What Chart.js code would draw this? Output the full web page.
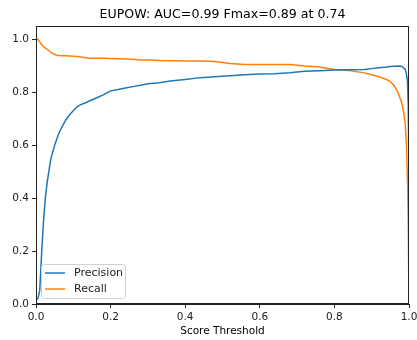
<!DOCTYPE html>
<html>
<head>
<meta charset="utf-8">
<script src="https://cdn.jsdelivr.net/npm/chart.js@4/dist/chart.umd.min.js"></script>
<style>
  html, body { margin: 0; padding: 0; background: #fff; }
  #wrap { width: 417px; height: 340px; }
</style>
</head>
<body>
<div id="wrap"><canvas id="chartpr"></canvas></div>
<script>
// seuils de score et courbes precision / rappel
const thresholds = [0, 0.005, 0.01, 0.015, 0.02, 0.025, 0.03, 0.04, 0.05, 0.06, 0.07, 0.08, 0.09, 0.10,
  0.11, 0.12, 0.13, 0.14, 0.16, 0.18, 0.20, 0.22, 0.24, 0.26, 0.28, 0.30, 0.33, 0.36, 0.40, 0.44,
  0.48, 0.52, 0.56, 0.60, 0.64, 0.68, 0.72, 0.76, 0.80, 0.84, 0.88, 0.90, 0.92, 0.94, 0.95, 0.96,
  0.97, 0.98, 0.985, 0.99, 0.993, 0.996, 0.998, 0.999, 1.0];
const precision = [0.02, 0.02, 0.05, 0.19, 0.31, 0.40, 0.46, 0.55, 0.60, 0.64, 0.67, 0.695, 0.715, 0.73,
  0.745, 0.753, 0.758, 0.765, 0.777, 0.79, 0.805, 0.81, 0.816, 0.821, 0.826, 0.832, 0.836, 0.842, 0.848, 0.855,
  0.858, 0.862, 0.866, 0.869, 0.870, 0.873, 0.879, 0.881, 0.884, 0.885, 0.886, 0.889, 0.892, 0.895, 0.897, 0.898,
  0.899, 0.898, 0.893, 0.885, 0.87, 0.84, 0.75, 0.60, 1.0];
const recall = [1.0, 1.0, 0.99, 0.98, 0.973, 0.967, 0.962, 0.95, 0.942, 0.939, 0.938, 0.938, 0.937, 0.936,
  0.935, 0.933, 0.931, 0.928, 0.928, 0.928, 0.927, 0.926, 0.925, 0.924, 0.922, 0.922, 0.92, 0.919, 0.918, 0.918,
  0.916, 0.908, 0.905, 0.905, 0.905, 0.905, 0.899, 0.895, 0.886, 0.882, 0.873, 0.866, 0.858, 0.848, 0.84, 0.825,
  0.80, 0.763, 0.73, 0.68, 0.60, 0.47, 0.32, 0.15, 0.0];
const xTicks = [0, 0.2, 0.4, 0.6, 0.8, 1.0];
const yTicks = [0, 0.2, 0.4, 0.6, 0.8, 1.0];
const chartTitle = 'EUPOW: AUC=0.99 Fmax=0.89 at 0.74';

const FONT = "'DejaVu Sans', sans-serif";
const BLUE = '#1f77b4';
const ORANGE = '#ff7f0e';

function toPoints(ys) {
  return thresholds.map((t, i) => ({ x: t, y: ys[i] }));
}

// cadre complet autour de la zone du graphe + titre centre sur cette zone
const framePlugin = {
  id: 'frame',
  afterDraw(chart) {
    const a = chart.chartArea, c = chart.ctx;
    c.save();
    c.strokeStyle = '#222';
    c.lineWidth = 1;
    c.strokeRect(a.left + 0.5, a.top + 0.5, a.right - a.left - 1, a.bottom - a.top - 1);
    c.fillStyle = '#000';
    c.font = '12.6px ' + FONT;
    c.textAlign = 'center';
    c.textBaseline = 'middle';
    c.fillText(chartTitle, (a.left + a.right) / 2, 14.5);
    c.restore();
  }
};

// legende dans le coin en bas a gauche
const legendBox = {
  id: 'legendBox',
  afterDatasetsDraw(chart) {
    const a = chart.chartArea, c = chart.ctx;
    const x = a.left + 5, y = a.bottom - 40, w = 84, h = 34;
    c.save();
    c.fillStyle = 'rgba(255,255,255,0.8)';
    c.strokeStyle = '#d0d0d0';
    c.lineWidth = 1;
    c.beginPath();
    c.roundRect(x + 0.5, y + 0.5, w, h, 3);
    c.fill();
    c.stroke();
    c.font = '11px ' + FONT;
    c.textBaseline = 'middle';
    chart.data.datasets.forEach((ds, i) => {
      const ly = y + 9 + i * 16;
      c.strokeStyle = ds.borderColor;
      c.lineWidth = 1.5;
      c.beginPath();
      c.moveTo(x + 4, ly);
      c.lineTo(x + 24, ly);
      c.stroke();
      c.fillStyle = '#222';
      c.fillText(ds.label, x + 33, ly);
    });
    c.restore();
  }
};

const ctx = document.getElementById('chartpr');

new Chart(ctx, {
  type: 'line',
  data: {
    datasets: [
      { label: 'Precision', data: toPoints(precision), borderColor: BLUE, borderWidth: 1.5 },
      { label: 'Recall', data: toPoints(recall), borderColor: ORANGE, borderWidth: 1.5 }
    ]
  },
  options: {
    responsive: true,
    maintainAspectRatio: false,
    animation: false,
    elements: { point: { radius: 0 }, line: { tension: 0 } },
    layout: { padding: { top: 26, right: 8, left: 0, bottom: 0 } },
    plugins: {
      legend: { display: false },
      tooltip: { enabled: false },
      title: { display: false }
    },
    scales: {
      x: {
        type: 'linear',
        min: 0,
        max: 1,
        afterFit: s => { s.height = 36; s.paddingLeft = 0; s.paddingRight = 0; },
        afterBuildTicks: s => { s.ticks = xTicks.map(v => ({ value: v })); },
        grid: { drawOnChartArea: false, drawTicks: true, tickLength: 4, color: '#222' },
        border: { display: true, color: '#222' },
        ticks: {
          color: '#222', padding: 3, maxRotation: 0,
          font: { family: FONT, size: 10.5 },
          callback: v => v.toFixed(1)
        },
        title: {
          display: true, text: 'Score Threshold', color: '#000',
          font: { family: FONT, size: 10.5 },
          padding: { top: 4, bottom: 2 }
        }
      },
      y: {
        type: 'linear',
        min: 0,
        max: 1.05,
        afterFit: s => { s.width = 36; s.paddingTop = 0; s.paddingBottom = 0; },
        afterBuildTicks: s => { s.ticks = yTicks.map(v => ({ value: v })); },
        grid: { drawOnChartArea: false, drawTicks: true, tickLength: 4, color: '#222' },
        border: { display: true, color: '#222' },
        ticks: {
          color: '#222', padding: 3,
          font: { family: FONT, size: 10.5 },
          callback: v => v.toFixed(1)
        }
      }
    }
  },
  plugins: [framePlugin, legendBox]
});
</script>
</body>
</html>
